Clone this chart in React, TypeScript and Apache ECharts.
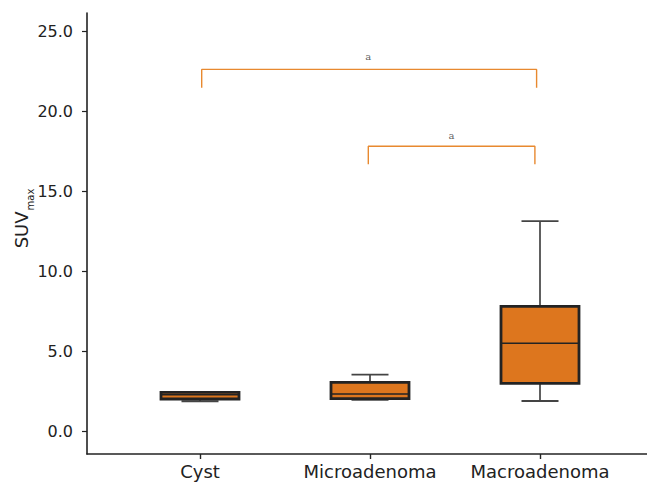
import React, { useEffect, useRef } from "react";
import * as echarts from "echarts";

// ---- data ----
const categories = ["Cyst", "Microadenoma", "Macroadenoma"];
const lowWhisker = [1.86, 1.94, 1.875];
const q1 = [2.0, 2.02, 2.98];
const median = [2.27, 2.31, 5.48];
const q3 = [2.42, 3.04, 7.79];
const highWhisker = [2.45, 3.52, 13.12];
const yTicks = [0, 5, 10, 15, 20, 25];
const xPositions = [0, 1, 2];
const bracketWide = [
  [0.01, 21.45],
  [0.01, 22.6],
  [1.98, 22.6],
  [1.98, 21.45],
];
const bracketNarrow = [
  [0.99, 16.67],
  [0.99, 17.8],
  [1.97, 17.8],
  [1.97, 16.67],
];
const sigLabels = [
  [0.99, 23.4, "a"],
  [1.48, 18.5, "a"],
];

// ---- styles ----
const BOX_W = 78;
const CAP_W = 37;
const FILL = "#dd761e";
const DARK = "#232323";
const BRACKET = "#e8892f";
const FONT = "DejaVu Sans";

export default function App() {
  const ref = useRef<HTMLDivElement>(null);

  useEffect(() => {
    document.body.style.margin = "0";
    if (!ref.current) return;
    const chart = echarts.init(ref.current, null, { renderer: "svg" });

    const boxData = categories.map((_, i) => [
      xPositions[i],
      lowWhisker[i],
      q1[i],
      median[i],
      q3[i],
      highWhisker[i],
    ]);

    const option: any = {
      animation: false,
      grid: {
        left: 87,
        right: 0,
        top: 13,
        bottom: 34,
        containLabel: false,
        outerBoundsMode: "none",
      },
      xAxis: {
        type: "value",
        min: -0.6647,
        max: 2.6294,
        splitLine: { show: false },
        axisLine: { show: true, onZero: false, lineStyle: { color: DARK, width: 1.6 } },
        axisTick: {
          show: true,
          length: 5,
          customValues: xPositions,
          lineStyle: { color: DARK, width: 1.4 },
        },
        axisLabel: {
          customValues: xPositions,
          formatter: (v: number) => categories[Math.round(v)] ?? "",
          color: "#222",
          fontFamily: FONT,
          fontSize: 18,
          margin: 8,
        },
      },
      yAxis: {
        type: "value",
        min: -1.4375,
        max: 26.125,
        splitLine: { show: false },
        axisLine: { show: true, onZero: false, lineStyle: { color: DARK, width: 1.6 } },
        axisTick: {
          show: true,
          length: 5,
          customValues: yTicks,
          lineStyle: { color: DARK, width: 1.2 },
        },
        axisLabel: {
          customValues: yTicks,
          formatter: (v: number) => v.toFixed(1),
          color: "#222",
          fontFamily: FONT,
          fontSize: 16,
          margin: 14,
        },
        name: "{a|SUV}{b|max}",
        nameLocation: "middle",
        nameRotate: 90,
        nameGap: 52,
        nameMoveOverlap: false,
        nameTextStyle: {
          padding: [0, 0, 0, 30],
          rich: {
            a: {
              fontFamily: FONT,
              fontSize: 18,
              color: "#222",
              lineHeight: 26,
              verticalAlign: "bottom",
              padding: [0, 0, 5, 0],
            },
            b: {
              fontFamily: FONT,
              fontSize: 10,
              color: "#222",
              lineHeight: 26,
              verticalAlign: "bottom",
              padding: [0, 0, 0, 1],
            },
          },
        },
      },
      series: [
        {
          type: "custom",
          data: boxData,
          encode: { x: 0, y: [1, 2, 3, 4, 5] },
          renderItem: (params: any, api: any) => {
            const x = api.value(0);
            const lo = api.coord([x, api.value(1)]);
            const b1 = api.coord([x, api.value(2)]);
            const m = api.coord([x, api.value(3)]);
            const b3 = api.coord([x, api.value(4)]);
            const hi = api.coord([x, api.value(5)]);
            const cx = lo[0];
            const hw = BOX_W / 2;
            const cw = CAP_W / 2;
            const wStyle = { stroke: "#2b2b2b", lineWidth: 1.5 };
            const capStyle = { stroke: "#444", lineWidth: 1.8 };
            return {
              type: "group",
              children: [
                { type: "line", shape: { x1: cx, y1: hi[1], x2: cx, y2: b3[1] }, style: wStyle },
                { type: "line", shape: { x1: cx, y1: b1[1], x2: cx, y2: lo[1] }, style: wStyle },
                { type: "line", shape: { x1: cx - cw, y1: hi[1], x2: cx + cw, y2: hi[1] }, style: capStyle },
                { type: "line", shape: { x1: cx - cw, y1: lo[1], x2: cx + cw, y2: lo[1] }, style: capStyle },
                {
                  type: "rect",
                  shape: { x: cx - hw, y: b3[1], width: BOX_W, height: b1[1] - b3[1] },
                  style: { fill: FILL, stroke: DARK, lineWidth: 2.8 },
                },
                { type: "line", shape: { x1: cx - hw, y1: m[1], x2: cx + hw, y2: m[1] }, style: { stroke: DARK, lineWidth: 1.6 } },
              ],
            };
          },
        },
        {
          type: "line",
          data: bracketWide,
          symbol: "none",
          lineStyle: { color: BRACKET, width: 1.4 },
          silent: true,
        },
        {
          type: "line",
          data: bracketNarrow,
          symbol: "none",
          lineStyle: { color: BRACKET, width: 1.4 },
          silent: true,
        },
        {
          type: "scatter",
          data: sigLabels,
          symbolSize: 1,
          itemStyle: { color: "rgba(0,0,0,0)" },
          label: {
            show: true,
            position: "inside",
            formatter: (p: any) => p.data[2],
            fontFamily: "DejaVu Serif",
            fontSize: 10,
            color: "#333",
          },
          silent: true,
        },
      ],
    };

    chart.setOption(option);
    return () => chart.dispose();
  }, []);

  return <div ref={ref} style={{ width: 647, height: 488 }} />;
}
